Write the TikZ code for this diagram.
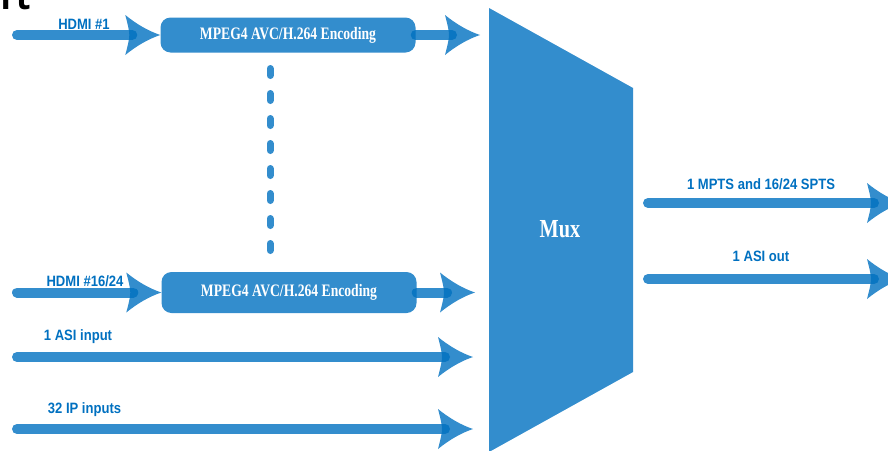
\documentclass[tikz,border=0pt]{standalone}
\usepackage{fontspec}
\setmainfont{Liberation Serif}
\newfontfamily\lblfont[FakeStretch=0.87]{Liberation Sans}
\newfontfamily\encfont[FakeStretch=0.78]{Liberation Serif}
\newfontfamily\titlefont{Open Sans}
\definecolor{mblue}{HTML}{0070C0}

\pgfdeclarearrow{
  name = Wing,
  setup code = {
    \pgfarrowssettipend{0pt}
    \pgfarrowssetlineend{-28pt}
    \pgfarrowssetbackend{-35pt}
    \pgfarrowshullpoint{0pt}{0pt}
    \pgfarrowshullpoint{-35pt}{20pt}
    \pgfarrowshullpoint{-35pt}{-20pt}
  },
  drawing code = {
    \pgfpathmoveto{\pgfqpoint{0pt}{0pt}}
    \pgfpathcurveto{\pgfqpoint{-12pt}{4pt}}{\pgfqpoint{-24pt}{11pt}}{\pgfqpoint{-35pt}{20pt}}
    \pgfpathcurveto{\pgfqpoint{-33pt}{12pt}}{\pgfqpoint{-31pt}{5pt}}{\pgfqpoint{-31pt}{0pt}}
    \pgfpathcurveto{\pgfqpoint{-31pt}{-5pt}}{\pgfqpoint{-33pt}{-12pt}}{\pgfqpoint{-35pt}{-20pt}}
    \pgfpathcurveto{\pgfqpoint{-24pt}{-11pt}}{\pgfqpoint{-12pt}{-4pt}}{\pgfqpoint{0pt}{0pt}}
    \pgfpathclose
    \pgfusepathqfill
  },
}

\begin{document}
\begin{tikzpicture}[x=1pt,y=-1pt]
\useasboundingbox (0,0) rectangle (888,450);
\tikzstyle{flow}=[color=mblue,opacity=0.8,line width=10pt,line cap=round,-Wing];
\tikzstyle{enc}=[fill=mblue,fill opacity=0.8,text opacity=1,text=white,rounded corners=10pt,minimum width=255pt,inner sep=0pt,font=\encfont\bfseries\fontsize{17.5}{17.5}\selectfont];
\tikzstyle{lbl}=[text=mblue,anchor=base,font=\lblfont\bfseries\fontsize{15}{15}\selectfont];
\node[anchor=base west,font=\titlefont\bfseries\fontsize{34}{34}\selectfont] (title) at (-3,9) {rt};
\fill[mblue,fill opacity=0.8] (489,8) -- (633,88) -- (633,372) -- (489,452) -- cycle;
\node[text=white,font=\encfont\bfseries\fontsize{26}{26}\selectfont] (mux) at (560,229) {Mux};
\node[enc,minimum height=35pt] (enc1) at (288,35) {MPEG4 AVC/H.264 Encoding};
\node[enc,minimum height=41pt] (enc2) at (289,292.5) {MPEG4 AVC/H.264 Encoding};
\coordinate (hdmi1) at (17,35);
\coordinate (out1) at (480,35);
\coordinate (hdmi2) at (17,292.5);
\coordinate (out2) at (475,292.5);
\coordinate (asi) at (17,357);
\coordinate (asiend) at (473,357);
\coordinate (ip) at (17,429);
\coordinate (ipend) at (473,429);
\coordinate (mpts) at (648,203);
\coordinate (mptsend) at (902,203);
\coordinate (asiout) at (648,279);
\coordinate (asioutend) at (902,279);
\coordinate (d1) at (270,68.5);
\coordinate (d2) at (270,259.5);
\draw[flow] (hdmi1) -- (enc1.west);
\draw[flow] (enc1.east) -- (out1);
\draw[flow] (hdmi2) -- (enc2.west);
\draw[flow] (enc2.east) -- (out2);
\draw[flow] (asi) -- (asiend);
\draw[flow] (ip) -- (ipend);
\draw[flow] (mpts) -- (mptsend);
\draw[flow] (asiout) -- (asioutend);
\draw[color=mblue,opacity=0.8,line width=7pt,line cap=round,dash pattern=on 7pt off 18pt] (d1) -- (d2);
\node[lbl] (l1) at (84,29) {HDMI \#1};
\node[lbl] (l2) at (85,286) {HDMI \#16/24};
\node[lbl] (l3) at (78,340) {1 ASI input};
\node[lbl] (l4) at (84.5,413) {32 IP inputs};
\node[lbl] (l5) at (761,189) {1 MPTS and 16/24 SPTS};
\node[lbl] (l6) at (761,261) {1 ASI out};
\end{tikzpicture}
\end{document}
